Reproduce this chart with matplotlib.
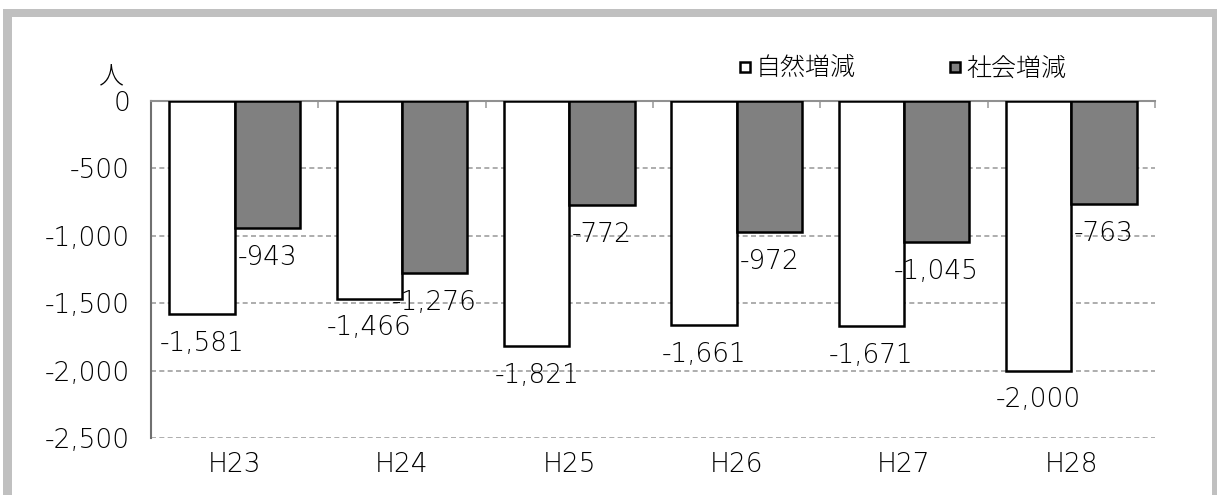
import numpy as np
import matplotlib.pyplot as plt
from matplotlib.patches import Rectangle
from matplotlib.lines import Line2D

plt.rcParams['font.family'] = ['DejaVu Sans', 'Noto Sans CJK JP']
plt.rcParams['font.weight'] = 'light'

# --- données ---
years = ["H23", "H24", "H25", "H26", "H27", "H28"]
natural = [-1581, -1466, -1821, -1661, -1671, -2000]   # 自然増減
social = [-943, -1276, -772, -972, -1045, -763]         # 社会増減
yticks = [0, -500, -1000, -1500, -2000, -2500]

W, H = 1217, 495
fig = plt.figure(figsize=(W / 100, H / 100), dpi=100)
ax = fig.add_axes([151 / W, 1 - 438 / H, (1155 - 151) / W, (438 - 101) / H])

# cadre gris autour de la figure
for (x0, y0, x1, y1) in [(3, 9, 12, 495), (3, 9, 1217, 17), (1212, 9, 1217, 495)]:
    fig.patches.append(Rectangle((x0 / W, 1 - y1 / H), (x1 - x0) / W, (y1 - y0) / H,
                                 transform=fig.transFigure, facecolor="#c0c0c0",
                                 edgecolor="none", zorder=0))

x = np.arange(len(years))
bw = 0.39
b1 = ax.bar(x - bw / 2, natural, bw, color="white", edgecolor="black", linewidth=1.8, zorder=3)
b2 = ax.bar(x + bw / 2, social, bw, color="#808080", edgecolor="black", linewidth=1.8, zorder=3)

fs = 19
for bars, vals in [(b1, natural), (b2, social)]:
    for r, v in zip(bars, vals):
        ax.annotate(f"{v:,}", (r.get_x() + r.get_width() / 2, v), xytext=(0, -21),
                    textcoords="offset points", ha="center", va="center",
                    fontsize=fs, zorder=5)

ax.set_xlim(-0.5, len(years) - 0.5)
ax.set_ylim(-2500, 0)
ax.set_yticks(yticks)
ax.set_yticklabels([f"{t:,}" for t in yticks])
ax.set_xticks(x)
ax.set_xticklabels(years)
ax.set_xticks(np.arange(-0.5, len(years)), minor=True)
ax.tick_params(axis="both", which="major", length=0, labelsize=fs)
ax.tick_params(axis="y", pad=15)
ax.tick_params(axis="x", pad=10)
ax.tick_params(axis="x", which="minor", top=True, bottom=False, direction="in",
               length=5, color="#a0a0a0", width=1.2)

ax.yaxis.grid(True, linestyle=(0, (3, 2)), color="#a0a0a0", linewidth=1.2, zorder=0)
ax.set_axisbelow(True)
for s in ["right", "bottom"]:
    ax.spines[s].set_visible(False)
ax.spines["left"].set_color("#707070")
ax.spines["left"].set_linewidth(1.5)
ax.spines["top"].set_color("#909090")
ax.spines["top"].set_linewidth(1.5)

fig.text(112 / W, 1 - 76 / H, "人", fontsize=18, ha="center", va="center",
         family="Noto Sans CJK JP")

handles = [Line2D([], [], marker="s", linestyle="none", markersize=7, markerfacecolor="white",
                  markeredgecolor="black", markeredgewidth=1.8),
           Line2D([], [], marker="s", linestyle="none", markersize=7, markerfacecolor="#808080",
                  markeredgecolor="black", markeredgewidth=1.8)]
fig.legend(handles, ["自然増減", "社会増減"], loc="center left",
           bbox_to_anchor=(726 / W, 1 - 68 / H), ncol=2, frameon=False,
           prop={"family": "Noto Sans CJK JP", "size": 18},
           handlelength=0.5, handletextpad=0.2, columnspacing=3.7, borderpad=0)

fig.savefig("out.png", dpi=100)
